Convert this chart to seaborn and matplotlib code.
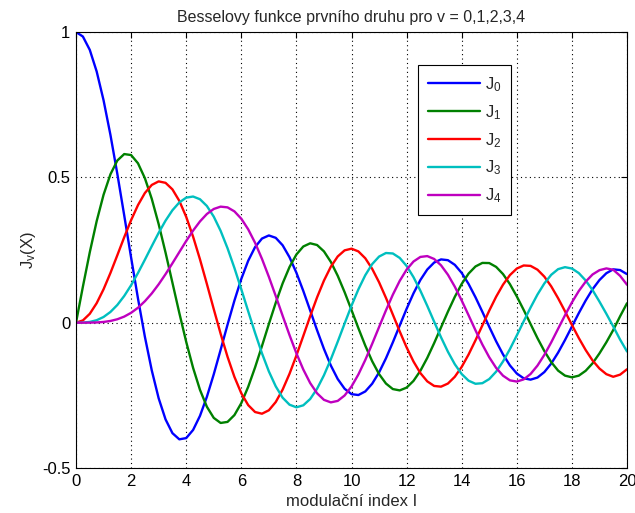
import matplotlib
matplotlib.use("Agg")
import matplotlib.pyplot as plt
import seaborn as sns
import pandas as pd

# modulation index, read every 0.25
x = [0.0, 0.25, 0.5, 0.75, 1.0, 1.25, 1.5, 1.75, 2.0, 2.25, 2.5, 2.75, 3.0, 3.25,
     3.5, 3.75, 4.0, 4.25, 4.5, 4.75, 5.0, 5.25, 5.5, 5.75, 6.0, 6.25, 6.5, 6.75,
     7.0, 7.25, 7.5, 7.75, 8.0, 8.25, 8.5, 8.75, 9.0, 9.25, 9.5, 9.75, 10.0,
     10.25, 10.5, 10.75, 11.0, 11.25, 11.5, 11.75, 12.0, 12.25, 12.5, 12.75,
     13.0, 13.25, 13.5, 13.75, 14.0, 14.25, 14.5, 14.75, 15.0, 15.25, 15.5,
     15.75, 16.0, 16.25, 16.5, 16.75, 17.0, 17.25, 17.5, 17.75, 18.0, 18.25,
     18.5, 18.75, 19.0, 19.25, 19.5, 19.75, 20.0]

j0 = [1.0, 0.9844, 0.9385, 0.8642, 0.7652, 0.6459, 0.5118, 0.3690, 0.2239,
      0.0828, -0.0484, -0.1641, -0.2601, -0.3327, -0.3801, -0.4013, -0.3971,
      -0.3691, -0.3205, -0.2551, -0.1776, -0.0931, -0.0068, 0.0759, 0.1506,
      0.2130, 0.2601, 0.2894, 0.3001, 0.2919, 0.2663, 0.2252, 0.1717, 0.1092,
      0.0419, -0.0259, -0.0903, -0.1474, -0.1939, -0.2273, -0.2459, -0.2489,
      -0.2366, -0.2100, -0.1712, -0.1227, -0.0677, -0.0097, 0.0477, 0.1009,
      0.1469, 0.1829, 0.2069, 0.2177, 0.2150, 0.1990, 0.1711, 0.1331, 0.0875,
      0.0374, -0.0142, -0.0641, -0.1092, -0.1469, -0.1749, -0.1914, -0.1960,
      -0.1888, -0.1699, -0.1406, -0.1029, -0.0596, -0.0134, 0.0328, 0.0762,
      0.1151, 0.1466, 0.1701, 0.1835, 0.1810, 0.1670]
j1 = [0.0, 0.1240, 0.2423, 0.3493, 0.4401, 0.5106, 0.5579, 0.5801, 0.5767,
      0.5483, 0.4971, 0.4260, 0.3391, 0.2411, 0.1374, 0.0333, -0.0660, -0.1555,
      -0.2311, -0.2892, -0.3276, -0.3450, -0.3414, -0.3179, -0.2767, -0.2207,
      -0.1538, -0.0803, -0.0047, 0.0685, 0.1352, 0.1915, 0.2346, 0.2621, 0.2731,
      0.2672, 0.2453, 0.2091, 0.1613, 0.1049, 0.0435, -0.0190, -0.0789, -0.1325,
      -0.1768, -0.2093, -0.2284, -0.2330, -0.2234, -0.2003, -0.1655, -0.1212,
      -0.0703, -0.0161, 0.0380, 0.0889, 0.1334, 0.1689, 0.1934, 0.2056, 0.2051,
      0.1919, 0.1672, 0.1326, 0.0904, 0.0438, -0.0047, -0.0532, -0.0977,
      -0.1358, -0.1650, -0.1822, -0.1880, -0.1823, -0.1655, -0.1398, -0.1057,
      -0.0675, -0.0253, 0.0221, 0.0668]
j2 = [0.0, 0.0078, 0.0306, 0.0671, 0.1149, 0.1711, 0.2321, 0.2940, 0.3528,
      0.4046, 0.4461, 0.4739, 0.4861, 0.4811, 0.4586, 0.4191, 0.3641, 0.2959,
      0.2178, 0.1333, 0.0466, -0.0383, -0.1173, -0.1865, -0.2429, -0.2836,
      -0.3074, -0.3132, -0.3014, -0.2730, -0.2303, -0.1758, -0.1130, -0.0457,
      0.0223, 0.0870, 0.1448, 0.1926, 0.2279, 0.2488, 0.2546, 0.2452, 0.2216,
      0.1853, 0.1391, 0.0855, 0.0280, -0.0300, -0.0849, -0.1336, -0.1734,
      -0.2019, -0.2177, -0.2201, -0.2094, -0.1861, -0.1520, -0.1094, -0.0608,
      -0.0095, 0.0415, 0.0893, 0.1308, 0.1637, 0.1862, 0.1968, 0.1954, 0.1824,
      0.1584, 0.1249, 0.0840, 0.0391, -0.0075, -0.0528, -0.0941, -0.1300,
      -0.1577, -0.1771, -0.1861, -0.1788, -0.1603]
j3 = [0.0, 0.0003, 0.0026, 0.0085, 0.0196, 0.0369, 0.0610, 0.0919, 0.1289,
      0.1710, 0.2166, 0.2633, 0.3091, 0.3510, 0.3868, 0.4137, 0.4302, 0.4340,
      0.4247, 0.4015, 0.3648, 0.3158, 0.2561, 0.1882, 0.1148, 0.0392, -0.0353,
      -0.1053, -0.1676, -0.2191, -0.2581, -0.2822, -0.2911, -0.2843, -0.2626,
      -0.2274, -0.1809, -0.1258, -0.0653, -0.0028, 0.0584, 0.1147, 0.1633,
      0.2015, 0.2274, 0.2397, 0.2381, 0.2228, 0.1951, 0.1567, 0.1100, 0.0579,
      0.0033, -0.0503, -0.1000, -0.1430, -0.1768, -0.1996, -0.2102, -0.2082,
      -0.1940, -0.1685, -0.1334, -0.0910, -0.0438, 0.0046, 0.0521, 0.0968,
      0.1350, 0.1648, 0.1842, 0.1910, 0.1863, 0.1707, 0.1452, 0.1121, 0.0725,
      0.0307, -0.0129, -0.0583, -0.0989]
j4 = [0.0, 0.0000, 0.0002, 0.0008, 0.0025, 0.0059, 0.0118, 0.0209, 0.0340,
      0.0514, 0.0738, 0.1006, 0.1320, 0.1669, 0.2044, 0.2428, 0.2811, 0.3168,
      0.3484, 0.3739, 0.3912, 0.3992, 0.3967, 0.3829, 0.3576, 0.3212, 0.2748,
      0.2196, 0.1578, 0.0917, 0.0238, -0.0427, -0.1054, -0.1611, -0.2077,
      -0.2429, -0.2655, -0.2742, -0.2691, -0.2505, -0.2196, -0.1781, -0.1283,
      -0.0728, -0.0151, 0.0423, 0.0962, 0.1438, 0.1825, 0.2104, 0.2262, 0.2291,
      0.2192, 0.1973, 0.1650, 0.1237, 0.0762, 0.0254, -0.0262, -0.0752, -0.1191,
      -0.1556, -0.1824, -0.1984, -0.2026, -0.1951, -0.1765, -0.1477, -0.1108,
      -0.0676, -0.0208, 0.0255, 0.0696, 0.1089, 0.1412, 0.1659, 0.1806, 0.1867,
      0.1821, 0.1611, 0.1306]

labels = ["$J_0$", "$J_1$", "$J_2$", "$J_3$", "$J_4$"]
colors = ["#0000ff", "#008000", "#ff0000", "#00bfbf", "#bf00bf"]

frames = []
for lab, vals in zip(labels, [j0, j1, j2, j3, j4]):
    frames.append(pd.DataFrame({"x": x, "J": vals, "order": lab}))
df = pd.concat(frames, ignore_index=True)

sns.set_style("white")
plt.rcParams["font.family"] = ["Liberation Sans", "DejaVu Sans"]
plt.rcParams["mathtext.fontset"] = "custom"
plt.rcParams["mathtext.rm"] = "Liberation Sans"
plt.rcParams["mathtext.it"] = "Liberation Sans"

fig = plt.figure(figsize=(6.35, 5.13), dpi=100)
ax = fig.add_axes([0.1197, 0.0877, 0.8677, 0.8499])

sns.lineplot(data=df, x="x", y="J", hue="order", palette=colors,
             linewidth=1.7, ax=ax, sort=False)

ax.set_xlim(0, 20)
ax.set_ylim(-0.5, 1)
ax.set_xticks(range(0, 21, 2))
ax.set_yticks([-0.5, 0, 0.5, 1])
ax.set_yticklabels(["-0.5", "0", "0.5", "1"])
ax.grid(True, color="black", linestyle=(0, (1, 3)), linewidth=0.8)
ax.tick_params(direction="in", length=4, width=0.8, top=True, right=True,
               labelsize=12, colors="black", pad=4)
for s in ax.spines.values():
    s.set_color("black")
    s.set_linewidth(0.8)

ax.set_title("Besselovy funkce prvního druhu pro v = 0,1,2,3,4", fontsize=11.5, pad=7)
ax.set_xlabel("modulační index I", fontsize=12, labelpad=4)
ax.set_ylabel("J$_v$(X)", fontsize=12, labelpad=3)

leg = ax.legend(loc="upper left", bbox_to_anchor=(0.621, 0.924), fontsize=12,
                frameon=True, fancybox=False, edgecolor="black", framealpha=1,
                handlelength=3.1, labelspacing=0.55, borderpad=0.6,
                handletextpad=0.3, borderaxespad=0)
leg.get_frame().set_linewidth(0.8)

fig.savefig("out.png", dpi=100)
